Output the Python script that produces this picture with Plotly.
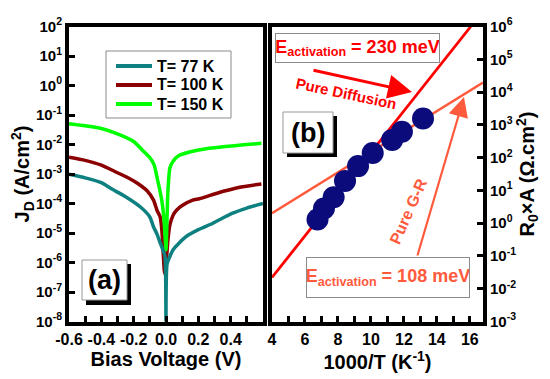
import plotly.graph_objects as go

# The page body keeps an 8 px margin, so the figure is 8 px smaller on each axis
OFF = 8
W, H = 550 - OFF, 379 - OFF


def px(x):
    return (x - OFF) / W


def py(y):
    return 1 - (y - OFF) / H


# ---------------- Panel (a): J-V curves ----------------
V_77 = [-0.60, -0.50, -0.40, -0.34, -0.25, -0.158, -0.10, -0.077, -0.055, -0.036, -0.018, -0.006, 0.0,
        0.006, 0.024, 0.044, 0.08, 0.125, 0.20, 0.287, 0.408, 0.50, 0.60]
J_77 = [9.8e-4, 7.4e-4, 5.1e-4, 3.2e-4, 1.7e-4, 7.6e-5, 3.5e-5, 1.6e-5, 9.0e-6, 4.6e-6, 2.6e-6, 1.6e-6, 1e-9,
        8.5e-7, 1.6e-6, 2.7e-6, 4.5e-6, 7.6e-6, 1.3e-5, 2.1e-5, 4.6e-5, 7.0e-5, 1.0e-4]

V_100 = [-0.60, -0.50, -0.40, -0.30, -0.238, -0.17, -0.117, -0.077, -0.056, -0.036, -0.026, -0.016, -0.010,
         -0.004, 0.003, 0.012, 0.024, 0.044, 0.065, 0.10, 0.165, 0.206, 0.30, 0.368, 0.45, 0.59]
J_100 = [3.7e-3, 2.9e-3, 2.0e-3, 1.1e-3, 7.6e-4, 4.6e-4, 2.7e-4, 1.3e-4, 5.9e-5, 3.5e-5, 1.3e-5, 1.6e-6, 5.1e-7,
         4.0e-7, 1.3e-6, 5.9e-6, 1.9e-5, 4.0e-5, 5.9e-5, 8.5e-5, 1.3e-4, 1.45e-4, 2.1e-4, 2.7e-4, 3.5e-4, 4.6e-4]

V_150 = [-0.60, -0.50, -0.40, -0.30, -0.20, -0.139, -0.097, -0.073, -0.055, -0.040, -0.026, -0.012, 0.0,
         0.006, 0.012, 0.024, 0.044, 0.08, 0.165, 0.25, 0.368, 0.48, 0.59]
J_150 = [5.1e-2, 4.3e-2, 3.5e-2, 2.3e-2, 1.26e-2, 5.9e-3, 3.4e-3, 2.0e-3, 7.4e-4, 3.2e-4, 1.26e-4, 2.7e-5, 2.7e-6,
         2.7e-5, 2.7e-4, 1.6e-3, 2.7e-3, 4.2e-3, 5.9e-3, 7.2e-3, 8.5e-3, 9.8e-3, 1.1e-2]

series_names = ["T= 77 K", "T= 100 K", "T= 150 K"]
series_colors = ["#0f8080", "#8b0000", "#00ff00"]

V_ticks = [-0.6, -0.4, -0.2, 0.0, 0.2, 0.4]
J_exponents = [-8, -7, -6, -5, -4, -3, -2, -1, 0, 1, 2]

# ---------------- Panel (b): R0A vs 1000/T ----------------
inv_T = [6.76, 7.15, 7.74, 8.43, 9.22, 10.11, 11.29, 11.88, 13.16]
R0A = [1.3, 2.8, 6.2, 19.5, 55, 138, 347, 617, 1550]

x_diff = [4.0, 16.06]
y_diff = [0.022, 1.0e6]
x_gr = [4.0, 16.8]
y_gr = [2.0, 1.95e4]

invT_ticks = [4, 6, 8, 10, 12, 14, 16]
R_exponents = [-3, -2, -1, 0, 1, 2, 3, 4, 5, 6]
T_top = [240, 180, 120, 90, 60]

BOLD = dict(family="Arial, Liberation Sans, sans-serif", color="black", weight="bold")


def f(size, color="black"):
    d = dict(BOLD)
    d["size"] = size
    d["color"] = color
    return d


fig = go.Figure()

curves = {"T= 77 K": (V_77, J_77), "T= 100 K": (V_100, J_100), "T= 150 K": (V_150, J_150)}
# draw order: 100 K, 150 K, 77 K (77 K on top)
for name in ["T= 100 K", "T= 150 K", "T= 77 K"]:
    vx, jy = curves[name]
    col = series_colors[series_names.index(name)]
    fig.add_trace(go.Scatter(x=vx, y=jy, mode="lines", name=name, showlegend=False,
                             line=dict(color=col, width=3.5, shape="spline", smoothing=0.6),
                             xaxis="x", yaxis="y"))

fig.add_trace(go.Scatter(x=x_diff, y=y_diff, mode="lines", showlegend=False,
                         line=dict(color="#ff0000", width=2.8), xaxis="x2", yaxis="y2"))
fig.add_trace(go.Scatter(x=x_gr, y=y_gr, mode="lines", showlegend=False,
                         line=dict(color="#ff5a3c", width=2.5), xaxis="x2", yaxis="y2"))
fig.add_trace(go.Scatter(x=inv_T, y=R0A, mode="markers", showlegend=False,
                         marker=dict(color="#0b0b7c", size=22, line=dict(width=0)),
                         xaxis="x2", yaxis="y2"))

axis_common = dict(showline=True, linecolor="black", linewidth=4, mirror=True,
                   ticks="inside", ticklen=6, tickwidth=2.5, tickcolor="black",
                   showgrid=False, zeroline=False, automargin=False)

# plot areas (axis lines of 4 px are drawn just outside these)
A_X0, A_X1 = 69, 263
B_X0, B_X1 = 272, 483
Y_TOP, Y_BOT = 26.5, 321.5

fig.update_layout(
    width=W, height=H,
    margin=dict(l=0, r=0, t=0, b=0, autoexpand=False),
    paper_bgcolor="white", plot_bgcolor="white",
    font=f(14),
    showlegend=False,
    xaxis=dict(domain=[px(A_X0), px(A_X1)], range=[-0.6, 0.6], anchor="y",
               tickvals=V_ticks, ticktext=["%.1f" % v for v in V_ticks], tickfont=f(16),
               minor=dict(dtick=0.1, ticks="inside", ticklen=6, tickwidth=2.5, tickcolor="black"),
               title=dict(text="Bias Voltage (V)", font=f(20), standoff=5),
               **axis_common),
    yaxis=dict(domain=[py(Y_BOT), py(Y_TOP)], type="log", range=[-8, 2], anchor="x",
               tickvals=[10.0 ** e for e in J_exponents],
               ticktext=["10<sup>%d</sup>" % e for e in J_exponents], tickfont=f(15),
               title=dict(text="J<sub>D</sub> (A/cm<sup>2</sup>)", font=f(20), standoff=4),
               **axis_common),
    xaxis2=dict(domain=[px(B_X0), px(B_X1)], range=[4, 16.8], anchor="y2",
                tickvals=invT_ticks, ticktext=[str(v) for v in invT_ticks], tickfont=f(16),
                minor=dict(dtick=1, ticks="inside", ticklen=6, tickwidth=2.5, tickcolor="black"),
                title=dict(text="1000/T (K<sup>-1</sup>)", font=f(20), standoff=5),
                **axis_common),
    yaxis2=dict(domain=[py(Y_BOT), py(Y_TOP)], type="log", range=[-3, 6], anchor="x2", side="right",
                tickvals=[10.0 ** e for e in R_exponents],
                ticktext=["10<sup>%d</sup>" % e for e in R_exponents], tickfont=f(15),
                title=dict(text="R<sub>0</sub>×A (Ω.cm<sup>2</sup>)", font=f(20), standoff=4),
                **axis_common),
    xaxis3=dict(overlaying="x2", side="top", range=[4, 16.8], anchor="y2",
                tickvals=[1000.0 / t for t in T_top], ticktext=[str(t) for t in T_top],
                tickfont=f(13), ticks="inside", ticklen=6, tickwidth=2.5, tickcolor="black",
                showline=False, showgrid=False, zeroline=False, automargin=False),
)

shapes = []
# legend box, drawn by hand
shapes.append(dict(type="rect", xref="paper", yref="paper", x0=px(106), x1=px(231), y0=py(118), y1=py(51),
                   fillcolor="white", line=dict(color="#8a8a8a", width=1), layer="above"))
legend_rows = [66, 85, 104]
for name, col, ry in zip(series_names, series_colors, legend_rows):
    shapes.append(dict(type="line", xref="paper", yref="paper", x0=px(116), x1=px(152), y0=py(ry), y1=py(ry),
                       line=dict(color=col, width=4)))
# (a) label box with shadow
shapes.append(dict(type="rect", xref="paper", yref="paper", x0=px(86), x1=px(131), y0=py(305), y1=py(264),
                   fillcolor="black", line=dict(width=0)))
shapes.append(dict(type="rect", xref="paper", yref="paper", x0=px(82), x1=px(127), y0=py(300), y1=py(260),
                   fillcolor="white", line=dict(color="#999999", width=1)))
# (b) label box with shadow
shapes.append(dict(type="rect", xref="paper", yref="paper", x0=px(287), x1=px(337), y0=py(157), y1=py(116),
                   fillcolor="black", line=dict(width=0)))
shapes.append(dict(type="rect", xref="paper", yref="paper", x0=px(283), x1=px(333), y0=py(153), y1=py(112),
                   fillcolor="white", line=dict(color="#999999", width=1)))
fig.update_layout(shapes=shapes)

C = dict(xref="paper", yref="paper", xanchor="center", yanchor="middle", showarrow=False)
ann = []
for name, ry in zip(series_names, legend_rows):
    ann.append(dict(x=px(155), y=py(ry), xref="paper", yref="paper", text=name, showarrow=False,
                    xanchor="left", yanchor="middle", font=f(16)))
ann.append(dict(C, x=px(104.5), y=py(280), text="(a)", font=f(27)))
ann.append(dict(C, x=px(308), y=py(132.5), text="(b)", font=f(27)))
ann.append(dict(C, x=px(357.5), y=py(48), text="E<sub>activation</sub> = 230 meV", font=f(18, "#ff0000"),
                bgcolor="white", bordercolor="#8a8a8a", borderwidth=1, borderpad=0, width=163, height=28))
ann.append(dict(C, x=px(388), y=py(277.5), text="E<sub>activation</sub> = 108 meV", font=f(18, "#ff5a3c"),
                bgcolor="white", bordercolor="#8a8a8a", borderwidth=1, borderpad=0, width=162, height=39))
ann.append(dict(C, x=px(346.5), y=py(93), text="Pure Diffusion", textangle=12, font=f(15, "#ff0000")))
ann.append(dict(C, x=px(408), y=py(211), text="Pure G-R", textangle=-66, font=f(16, "#ff5a3c")))
# arrows
ann.append(dict(x=px(412), y=py(92), xref="paper", yref="paper", text="", showarrow=True,
                ax=-100, ay=-22, arrowhead=2, arrowsize=1.6, arrowwidth=3, arrowcolor="#ff0000"))
ann.append(dict(x=px(464), y=py(97), xref="paper", yref="paper", text="", showarrow=True,
                ax=-47, ay=160, arrowhead=2, arrowsize=1.8, arrowwidth=2.2, arrowcolor="#ff5a3c"))
fig.update_layout(annotations=ann)

fig.write_html("out.html")
